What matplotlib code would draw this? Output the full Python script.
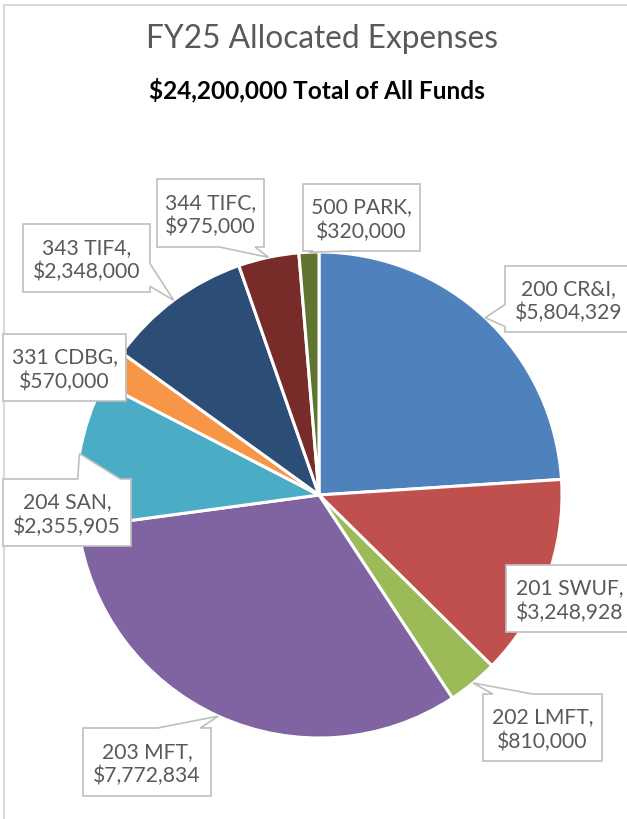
import matplotlib
matplotlib.use("Agg")
import matplotlib.pyplot as plt
from matplotlib.patches import Polygon, Rectangle
import numpy as np

# ---- data ----
funds = ["200 CR&I", "201 SWUF", "202 LMFT", "203 MFT", "204 SAN",
         "331 CDBG", "343 TIF4", "344 TIFC", "500 PARK"]
amounts = [5804329, 3248928, 810000, 7772834, 2355905,
           570000, 2348000, 975000, 320000]
colors = ["#4F81BD", "#C0504D", "#9BBB59", "#8064A2", "#4BACC6",
          "#F79646", "#2C4D75", "#772C2A", "#5F7530"]
title = "FY25 Allocated Expenses"
subtitle = "$24,200,000 Total of All Funds"

# ---- layout (pixel positions, top-based) ----
W, H = 627, 820
FONT = "Lato"
TXT = "#595959"
cx, cy, r = 319, 496, 243
label_boxes = [
    (505, 267, 632, 333),
    (506, 566, 633, 633),
    (483, 695, 602, 762),
    (83, 729, 211, 797),
    (3, 480, 131, 547),
    (3, 335, 126, 402),
    (23, 225, 150, 293),
    (157, 180, 264, 248),
    (303, 185, 420, 252),
]

fig = plt.figure(figsize=(W / 100, H / 100), dpi=100)
fig.patch.set_facecolor("white")


def fx(x):
    return x / W


def fy(y):
    return 1 - y / H


# chart area border
fig.add_artist(Rectangle((fx(4), fy(900)), fx(800), (900 - 6) / H,
                         transform=fig.transFigure, fill=False,
                         edgecolor="#D9D9D9", linewidth=1.5, zorder=1))

ax = fig.add_axes([fx(cx - r), fy(cy + r), 2 * r / W, 2 * r / H])
ax.pie(amounts, colors=colors, startangle=90, counterclock=False, radius=1,
       wedgeprops=dict(edgecolor="white", linewidth=2.2))
ax.set_xlim(-1, 1)
ax.set_ylim(-1, 1)
ax.axis("off")

fig.text(fx(322), fy(48), title, ha="center", va="baseline",
         fontsize=22.8, color=TXT, family=FONT)
fig.text(fx(317), fy(98), subtitle, ha="center", va="baseline",
         fontsize=17.6, color="black", family=FONT, fontweight="bold")

total = float(np.sum(amounts))
cum = np.cumsum([0] + amounts[:-1])


def callout(box, tip):
    x0, y0, x1, y1 = box
    tx, ty = tip
    w, h = x1 - x0, y1 - y0
    xc, yc = (x0 + x1) / 2, (y0 + y1) / 2
    top = [(x0, y0)]
    right = [(x1, y0)]
    bottom = [(x1, y1)]
    left = [(x0, y1)]
    inside = x0 <= tx <= x1 and y0 <= ty <= y1
    if not inside:
        dx, dy = tx - xc, ty - yc
        dq = dx * h / w
        if abs(dq) > abs(dy):
            ya, yb = (y0 + h * 7 / 12, y0 + h * 11 / 12) if dy > 0 else (y0 + h / 12, y0 + h * 5 / 12)
            if dx > 0:
                right += [(x1, ya), (tx, ty), (x1, yb)]
            else:
                left += [(x0, yb), (tx, ty), (x0, ya)]
        else:
            xa, xb = (x0 + w * 7 / 12, x0 + w * 11 / 12) if dx > 0 else (x0 + w / 12, x0 + w * 5 / 12)
            if dy < 0:
                top += [(xa, y0), (tx, ty), (xb, y0)]
            else:
                bottom += [(xb, y1), (tx, ty), (xa, y1)]
    pts = top + right + bottom + left
    pts = [(fx(px), fy(py)) for px, py in pts]
    fig.add_artist(Polygon(pts, closed=True, transform=fig.transFigure,
                           facecolor="white", edgecolor="#BFBFBF",
                           linewidth=1.2, zorder=5))


for name, val, c0, box in zip(funds, amounts, cum, label_boxes):
    mid = (c0 + val / 2) / total
    theta = np.deg2rad(90 - 360 * mid)
    dxp, dyp = ax.transData.transform((np.cos(theta), np.sin(theta)))
    tip = (dxp, H - dyp)
    callout(box, tip)
    x0, y0, x1, y1 = box
    fig.text(fx((x0 + x1) / 2), fy((y0 + y1) / 2 + 1), f"{name},\n${val:,}",
             ha="center", va="center", fontsize=15.2, color=TXT,
             family=FONT, linespacing=1.25, zorder=6)

fig.savefig("out.png", dpi=100, facecolor="white")
